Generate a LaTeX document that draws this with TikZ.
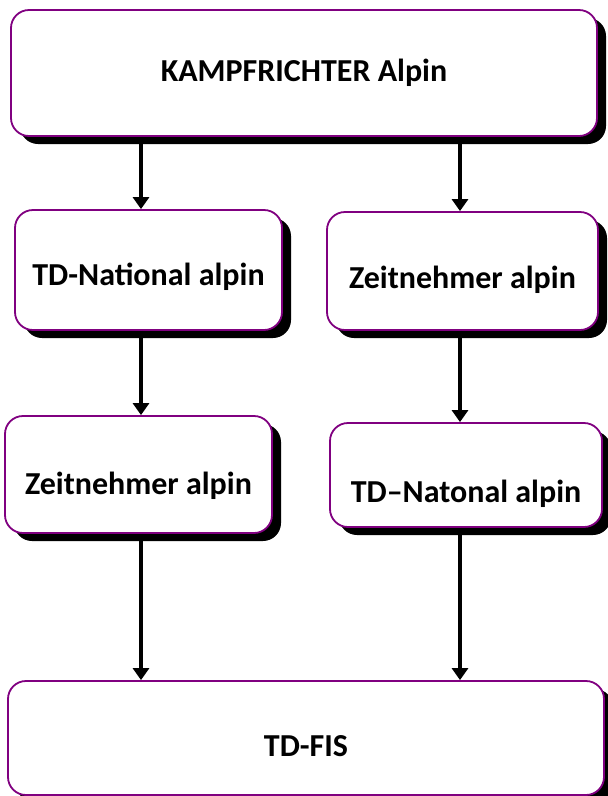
\documentclass[tikz,border=0pt]{standalone}
\usepackage{fontspec}
\setmainfont{Carlito}
\usetikzlibrary{arrows.meta}
\usetikzlibrary{shadows}

\definecolor{boxline}{HTML}{800080}

\begin{document}
\begin{tikzpicture}[x=1pt,y=-1pt,
    textdrop/.style={text height=#1,text depth=0pt}]
\useasboundingbox (0,0) rectangle (608,796);

\begin{scope}[every node/.style={draw=boxline,line width=1.8pt,fill=white,rectangle,
              rounded corners=18pt,inner sep=0pt,
              font=\fontsize{32}{38}\selectfont\bfseries,
              drop shadow={shadow xshift=9pt,shadow yshift=-8pt,fill=black,opacity=1}}]
    \node[minimum width=586pt,minimum height=126pt]                  (kampf)  at (304,73)      {KAMPFRICHTER Alpin};
    \node[minimum width=267pt,minimum height=120pt,textdrop=30pt]    (tdnat)  at (148.5,270)   {TD-National alpin};
    \node[minimum width=271pt,minimum height=118pt,textdrop=34pt]    (zeitR)  at (462.5,271)   {Zeitnehmer alpin};
    \node[minimum width=267pt,minimum height=117pt,textdrop=40pt]    (zeitL)  at (138.5,474.5) {Zeitnehmer alpin};
    \node[minimum width=272pt,minimum height=104pt,textdrop=54pt]    (tdnatR) at (466,475)     {TD--Natonal alpin};
    \node[minimum width=596pt,minimum height=114pt,textdrop=36pt]    (tdfis)  at (306,738)     {TD-FIS};
\end{scope}

\coordinate (colL) at (141,0);
\coordinate (colR) at (460,0);

\begin{scope}[>={Triangle[width=16pt,length=12pt]},
              every edge/.style={draw=black,line width=4pt}]
    \path [->] (kampf.south -| colL) edge (tdnat.north -| colL);
    \path [->] (kampf.south -| colR) edge (zeitR.north -| colR);
    \path [->] (tdnat.south -| colL) edge (zeitL.north -| colL);
    \path [->] (zeitR.south -| colR) edge (tdnatR.north -| colR);
    \path [->] (zeitL.south -| colL) edge (tdfis.north -| colL);
    \path [->] (tdnatR.south -| colR) edge (tdfis.north -| colR);
\end{scope}
\end{tikzpicture}
\end{document}
